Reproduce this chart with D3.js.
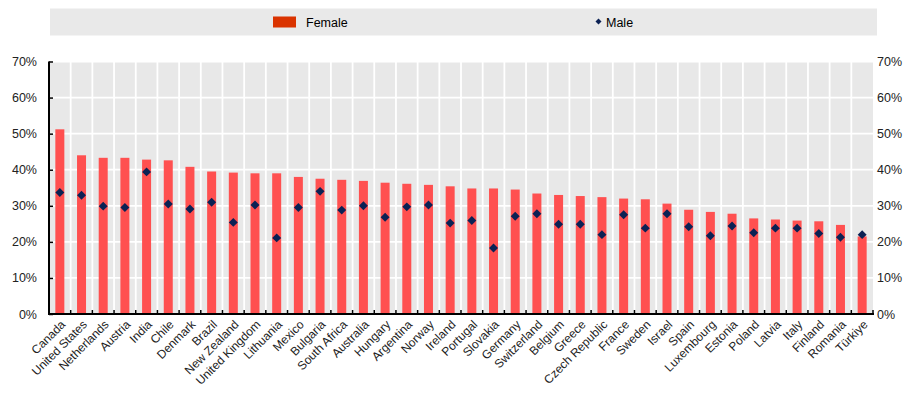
<!DOCTYPE html>
<html>
<head>
<meta charset="utf-8">
<script src="https://cdn.jsdelivr.net/npm/d3@7"></script>
<style>
  html, body { margin: 0; padding: 0; background: #fff; }
  svg { display: block; font-family: "Liberation Sans", Arial, sans-serif; }
</style>
</head>
<body>
<svg id="chart" width="920" height="402"></svg>
<script>
const categories = ["Canada","United States","Netherlands","Austria","India","Chile","Denmark","Brazil","New Zealand","United Kingdom","Lithuania","Mexico","Bulgaria","South Africa","Australia","Hungary","Argentina","Norway","Ireland","Portugal","Slovakia","Germany","Switzerland","Belgium","Greece","Czech Republic","France","Sweden","Israel","Spain","Luxembourg","Estonia","Poland","Latvia","Italy","Finland","Romania","Türkiye"];
const female = [51.2,44.0,43.3,43.3,42.8,42.6,40.8,39.5,39.2,39.0,39.0,38.0,37.5,37.2,36.9,36.4,36.1,35.8,35.4,34.8,34.8,34.5,33.4,33.0,32.7,32.4,32.0,31.8,30.6,28.9,28.3,27.8,26.5,26.2,25.9,25.7,24.7,21.5];
const male = [33.7,32.9,29.9,29.5,39.4,30.5,29.1,31.0,25.4,30.2,21.1,29.5,34.0,28.8,30.0,26.8,29.7,30.2,25.2,25.9,18.3,27.1,27.8,24.9,24.9,22.0,27.5,23.8,27.8,24.2,21.7,24.4,22.5,23.8,23.8,22.3,21.3,22.0];
const yTicks = [0,10,20,30,40,50,60,70];
const seriesNames = ["Female","Male"];

const svg = d3.select("#chart");
const L = 49, R = 873, T = 61.5, B = 314;

const x = d3.scaleBand().domain(categories).range([L, R]).padding(0);
const y = d3.scaleLinear().domain([0, 70]).range([B, T]);

// Legend
const leg = svg.append("g");
leg.append("rect").attr("x", 50).attr("y", 8.5).attr("width", 827).attr("height", 27)
  .attr("fill", "#e9e9e9");
leg.append("rect").attr("x", 273).attr("y", 16.5).attr("width", 23).attr("height", 11)
  .attr("fill", "#da3300");
leg.append("text").attr("x", 306).attr("y", 26.5).attr("font-size", 12.5).attr("fill", "#000")
  .text(seriesNames[0]);
leg.append("path").attr("transform", "translate(598.5,21.5) rotate(45)")
  .attr("d", d3.symbol(d3.symbolSquare, 18)()).attr("fill", "#0b2154");
leg.append("text").attr("x", 606).attr("y", 26.5).attr("font-size", 12.5).attr("fill", "#000")
  .text(seriesNames[1]);

// Plot background
svg.append("rect").attr("x", L).attr("y", T).attr("width", R - L).attr("height", B - T)
  .attr("fill", "#e8e8e8");

// Grid lines
const grid = svg.append("g").attr("stroke", "#fff").attr("stroke-width", 1.8);
grid.selectAll("line.h").data(yTicks.filter(d => d > 0)).join("line")
  .attr("x1", L).attr("x2", R).attr("y1", d => y(d)).attr("y2", d => y(d));
grid.selectAll("line.v").data(categories.slice(1)).join("line")
  .attr("x1", d => x(d)).attr("x2", d => x(d)).attr("y1", T).attr("y2", B);

// Bars
const bw = 9;
svg.append("g").selectAll("rect").data(categories).join("rect")
  .attr("x", d => x(d) + x.bandwidth() / 2 - bw / 2)
  .attr("width", bw)
  .attr("y", (d, i) => y(female[i]))
  .attr("height", (d, i) => B - y(female[i]))
  .attr("fill", "#ff5050");

// Male diamonds
svg.append("g").selectAll("path").data(categories).join("path")
  .attr("transform", (d, i) => `translate(${x(d) + x.bandwidth() / 2},${y(male[i])}) rotate(45)`)
  .attr("d", d3.symbol(d3.symbolSquare, 40)())
  .attr("fill", "#0b2154");

// Left axis
const leftAxis = d3.axisLeft(y).tickValues(yTicks).tickFormat(d => d + "%").tickSize(-4).tickPadding(12);
const la = svg.append("g").attr("transform", `translate(${L},0)`).call(leftAxis);
la.select(".domain").attr("stroke", "#000").attr("stroke-width", 2).attr("d", `M0,${T}V${B}`);
la.selectAll(".tick line").attr("stroke", "#000").attr("stroke-width", 1.5);
la.selectAll(".tick text").attr("font-size", 12.5).attr("fill", "#222")
  .attr("font-family", "Liberation Sans, Arial, sans-serif");

// Right axis labels
const rightAxis = d3.axisRight(y).tickValues(yTicks).tickFormat(d => d + "%").tickSize(0).tickPadding(4);
const ra = svg.append("g").attr("transform", `translate(${R},0)`).call(rightAxis);
ra.select(".domain").remove();
ra.selectAll(".tick text").attr("font-size", 12.5).attr("fill", "#222")
  .attr("font-family", "Liberation Sans, Arial, sans-serif");

// Bottom axis
const bottom = svg.append("g");
bottom.append("line").attr("x1", L - 1).attr("x2", R + 1).attr("y1", B).attr("y2", B)
  .attr("stroke", "#000").attr("stroke-width", 2);
bottom.selectAll("line.t").data(categories.slice(1).concat(["__end"])).join("line")
  .attr("x1", d => d === "__end" ? R : x(d)).attr("x2", d => d === "__end" ? R : x(d))
  .attr("y1", B).attr("y2", B - 4).attr("stroke", "#000").attr("stroke-width", 1.5);

// X labels
bottom.selectAll("text").data(categories).join("text")
  .attr("transform", d => `translate(${x(d) + x.bandwidth() / 2 + 4},${B + 9}) rotate(-45)`)
  .attr("text-anchor", "end")
  .attr("dominant-baseline", "middle")
  .attr("font-size", 12)
  .attr("fill", "#222")
  .text(d => d);
</script>
</body>
</html>
